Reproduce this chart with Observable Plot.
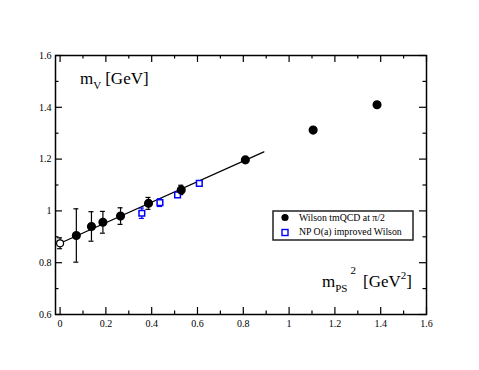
<!DOCTYPE html>
<html><head><meta charset="utf-8">
<script src="https://cdn.jsdelivr.net/npm/d3@7"></script>
<script src="https://cdn.jsdelivr.net/npm/@observablehq/plot@0.6"></script>
<style>
body{margin:0;background:#fff;}
svg{font-family:"Liberation Serif","DejaVu Serif",serif;}
</style></head><body><div id="chart"></div>
<script>
// Wilson tmQCD at pi/2
const tmX = [0.071, 0.137, 0.187, 0.264, 0.386, 0.529, 0.809, 1.105, 1.384];
const tmY = [0.905, 0.940, 0.956, 0.980, 1.029, 1.081, 1.197, 1.312, 1.410];
const tmErr = [0.103, 0.057, 0.042, 0.032, 0.023, 0.018, 0, 0, 0];
// chiral extrapolation (open circle)
const chiX = [0];
const chiY = [0.875];
const chiErr = [0.021];
// NP O(a) improved Wilson
const npX = [0.357, 0.436, 0.513, 0.608];
const npY = [0.991, 1.032, 1.062, 1.106];
const npErr = [0.020, 0.015, 0.008, 0.003];
// linear fit line
const fitX = [0, 0.89];
const fitY = [0.875, 1.228];
// ticks
const xMajor = [0, 0.2, 0.4, 0.6, 0.8, 1, 1.2, 1.4, 1.6];
const xMinor = [0.1, 0.3, 0.5, 0.7, 0.9, 1.1, 1.3, 1.5];
const yMajor = [0.6, 0.8, 1, 1.2, 1.4, 1.6];
const yMinor = [0.7, 0.9, 1.1, 1.3, 1.5];
const legendLabels = ["Wilson tmQCD at \u03c0/2", "NP O(a) improved Wilson"];

const tm = tmX.map((x, i) => ({x, y: tmY[i], e: tmErr[i]}));
const chi = chiX.map((x, i) => ({x, y: chiY[i], e: chiErr[i]}));
const np = npX.map((x, i) => ({x, y: npY[i], e: npErr[i]}));
const fit = fitX.map((x, i) => ({x, y: fitY[i]}));
const errData = [...tm, ...chi].filter(d => d.e > 0);
const npErrData = np.filter(d => d.e > 0);

const W = 479, H = 370, mL = 55, mR = 53, mT = 55, mB = 56;
const fh = H - mT - mB, fw = W - mL - mR;
const blue = "#0000ff";

function errMarks(data, color) {
  return [
    Plot.ruleX(data, {x: "x", y1: d => d.y - d.e, y2: d => d.y + d.e, stroke: color, strokeWidth: 1.2}),
    Plot.ruleY(data, {y: d => d.y - d.e, x1: "x", x2: "x", insetLeft: -2.5, insetRight: -2.5, stroke: color, strokeWidth: 1.2}),
    Plot.ruleY(data, {y: d => d.y + d.e, x1: "x", x2: "x", insetLeft: -2.5, insetRight: -2.5, stroke: color, strokeWidth: 1.2})
  ];
}

const plot = Plot.plot({
  width: W, height: H,
  marginLeft: mL, marginRight: mR, marginTop: mT, marginBottom: mB,
  style: {fontFamily: "Liberation Serif, serif", background: "#fff"},
  x: {domain: [-0.02, 1.6]},
  y: {domain: [0.6, 1.6]},
  marks: [
    // inward ticks
    Plot.tickX(xMajor, {x: d => d, insetTop: fh - 7, strokeWidth: 1.2}),
    Plot.tickX(xMinor, {x: d => d, insetTop: fh - 3.5, strokeWidth: 1.2}),
    Plot.tickX(xMajor, {x: d => d, insetBottom: fh - 7, strokeWidth: 1.2}),
    Plot.tickX(xMinor, {x: d => d, insetBottom: fh - 3.5, strokeWidth: 1.2}),
    Plot.tickY(yMajor, {y: d => d, insetRight: fw - 7, strokeWidth: 1.2}),
    Plot.tickY(yMinor, {y: d => d, insetRight: fw - 3.5, strokeWidth: 1.2}),
    Plot.tickY(yMajor, {y: d => d, insetLeft: fw - 7, strokeWidth: 1.2}),
    Plot.tickY(yMinor, {y: d => d, insetLeft: fw - 3.5, strokeWidth: 1.2}),
    Plot.axisX(xMajor, {tickSize: 0, tickPadding: 5, tickFormat: d3.format("~g"), fontSize: 10, label: null}),
    Plot.axisY(yMajor, {tickSize: 0, tickPadding: 4, tickFormat: d3.format("~g"), fontSize: 10, label: null}),
    Plot.frame({strokeWidth: 1.5}),
    Plot.line(fit, {x: "x", y: "y", stroke: "black", strokeWidth: 1.2}),
    ...errMarks(errData, "black"),
    ...errMarks(npErrData, blue),
    Plot.dot(np, {x: "x", y: "y", symbol: "square", r: 3.2, stroke: blue, fill: "white", strokeWidth: 1.5}),
    Plot.dot(tm, {x: "x", y: "y", r: 3.8, fill: "black", stroke: "black"}),
    Plot.dot(chi, {x: "x", y: "y", r: 3.5, fill: "white", stroke: "black", strokeWidth: 1.2})
  ]
});
document.getElementById("chart").appendChild(plot);

const svg = d3.select(plot);
// y-axis label
const yl = svg.append("text").attr("x", mL + 25).attr("y", mT + 29)
  .attr("text-anchor", "start").attr("font-size", 17).attr("fill", "black");
yl.append("tspan").text("m");
yl.append("tspan").attr("font-size", 11).attr("dy", 4.5).text("V");
yl.append("tspan").attr("dy", -4.5).attr("dx", 4).text("[GeV]");
// x-axis label
const xl = svg.append("text").attr("x", W - mR - 104).attr("y", H - mB - 27)
  .attr("text-anchor", "start").attr("font-size", 17).attr("fill", "black");
xl.append("tspan").text("m");
xl.append("tspan").attr("font-size", 11).attr("dy", 5).text("PS");
xl.append("tspan").attr("font-size", 11).attr("dy", -18.5).attr("dx", 3).text("2");
xl.append("tspan").attr("dy", 13.5).attr("dx", 7).text("[GeV");
xl.append("tspan").attr("font-size", 11).attr("dy", -8).text("2");
xl.append("tspan").attr("dy", 8).text("]");
// legend
const lx = W - mR - 153, ly = mT + 156, lw = 140, lh = 29;
const lg = svg.append("g").attr("text-anchor", "start");
lg.append("rect").attr("x", lx).attr("y", ly).attr("width", lw).attr("height", lh)
  .attr("fill", "white").attr("stroke", "#222").attr("stroke-width", 1.5);
lg.append("circle").attr("cx", lx + 12).attr("cy", ly + 6.5).attr("r", 3.6).attr("fill", "black");
lg.append("rect").attr("x", lx + 9).attr("y", ly + 18.5).attr("width", 6).attr("height", 6)
  .attr("fill", "white").attr("stroke", blue).attr("stroke-width", 1.4);
legendLabels.forEach((t, i) => {
  lg.append("text").attr("x", lx + 26).attr("y", ly + 9.5 + i * 14.5)
    .attr("font-size", 9.8).attr("fill", "black").text(t);
});
</script></body></html>
